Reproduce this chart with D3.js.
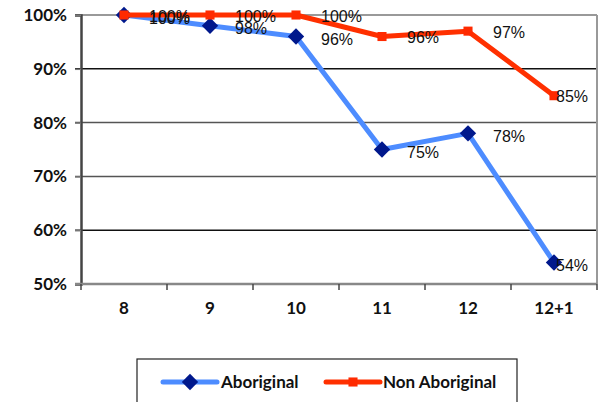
<!DOCTYPE html>
<html>
<head>
<meta charset="utf-8">
<script src="https://cdn.jsdelivr.net/npm/d3@7"></script>
<style>
  html, body { margin: 0; padding: 0; background: #fff; }
  svg { display: block; }
</style>
</head>
<body>
<svg id="chart" width="598" height="402"></svg>
<script>
// Retention by grade, in percent
const grades = ["8", "9", "10", "11", "12", "12+1"];
const aboriginal = [100, 98, 96, 75, 78, 54];
const nonAboriginal = [100, 100, 100, 96, 97, 85];
const yTicks = [50, 60, 70, 80, 90, 100];
const seriesNames = ["Aboriginal", "Non Aboriginal"];

const svg = d3.select("#chart");
const m = { left: 81, right: 597, top: 15, bottom: 284 };

const x = d3.scaleBand().domain(grades).range([m.left, m.right]);
const y = d3.scaleLinear().domain([50, 100]).range([m.bottom, m.top]);

const axisFont = "Lato, 'Open Sans', sans-serif";
const labelFont = "'Liberation Sans', Arial, sans-serif";

// Horizontal gridlines
svg.append("g").selectAll("line")
  .data(yTicks.filter(d => d > 50 && d < 100))
  .join("line")
  .attr("x1", m.left - 6).attr("x2", m.right)
  .attr("y1", d => y(d)).attr("y2", d => y(d))
  .attr("stroke", d => d === 60 || d === 90 ? "#111" : "#555")
  .attr("stroke-width", 1.5);

// Plot area frame: top and right edges
svg.append("line")
  .attr("x1", m.left - 6).attr("x2", m.right)
  .attr("y1", y(100)).attr("y2", y(100))
  .attr("stroke", "#999").attr("stroke-width", 2);
svg.append("line")
  .attr("x1", m.right).attr("x2", m.right)
  .attr("y1", y(100)).attr("y2", y(50))
  .attr("stroke", "#999").attr("stroke-width", 2);

// Y axis
const yAxis = svg.append("g")
  .attr("transform", `translate(${m.left},0)`)
  .call(d3.axisLeft(y).tickValues(yTicks).tickFormat(d => d + "%").tickSize(6).tickPadding(8));
yAxis.select(".domain").attr("stroke", "#444").attr("stroke-width", 2.5);
yAxis.selectAll(".tick line").attr("stroke", "#777").attr("stroke-width", 1.5);
yAxis.selectAll(".tick text")
  .attr("font-family", axisFont).attr("font-weight", "bold")
  .attr("font-size", 17).attr("fill", "#111");

// X axis with ticks between categories
const xAxis = svg.append("g")
  .attr("transform", `translate(0,${m.bottom})`)
  .call(d3.axisBottom(x).tickSize(0).tickPadding(18));
xAxis.select(".domain").remove();
xAxis.selectAll(".tick text")
  .attr("font-family", axisFont).attr("font-weight", "bold")
  .attr("font-size", 17).attr("fill", "#111");
svg.append("line")
  .attr("x1", m.left - 6).attr("x2", m.right)
  .attr("y1", m.bottom).attr("y2", m.bottom)
  .attr("stroke", "#888").attr("stroke-width", 2.5);
svg.append("g").selectAll("line")
  .data(grades.map(g => x(g)).concat([m.right]))
  .join("line")
  .attr("x1", d => d).attr("x2", d => d)
  .attr("y1", m.bottom).attr("y2", m.bottom + 6)
  .attr("stroke", "#444").attr("stroke-width", 1.5);

const cx = g => x(g) + x.bandwidth() / 2;
const line = d3.line().x((d, i) => cx(grades[i])).y(d => y(d));

const series = [
  { name: seriesNames[0], values: aboriginal, line: "#4d8cff", marker: "#00188c", shape: "diamond", dy: 3 },
  { name: seriesNames[1], values: nonAboriginal, line: "#ff3000", marker: "#ff2a00", shape: "square", dy: 1 }
];

const markerPath = shape => shape === "diamond"
  ? d3.symbol(d3.symbolDiamond2, 170)()
  : d3.symbol(d3.symbolSquare2, 105)();

series.forEach(s => {
  svg.append("path")
    .datum(s.values)
    .attr("fill", "none")
    .attr("stroke", s.line)
    .attr("stroke-width", 5)
    .attr("stroke-linejoin", "round")
    .attr("d", line);
  svg.append("g").selectAll("path")
    .data(s.values)
    .join("path")
    .attr("transform", (d, i) => `translate(${cx(grades[i])},${y(d)})`)
    .attr("d", markerPath(s.shape))
    .attr("fill", s.marker);
});

// Value labels
series.forEach(s => {
  svg.append("g").selectAll("text")
    .data(s.values)
    .join("text")
    .attr("x", (d, i) => Math.min(cx(grades[i]) + 25, m.right - 41))
    .attr("y", d => y(d) + s.dy)
    .attr("dy", "0.35em")
    .attr("font-family", labelFont)
    .attr("font-size", 16)
    .attr("fill", "#111")
    .text(d => d + "%");
});

// Legend
const lg = svg.append("g");
lg.append("rect")
  .attr("x", 137).attr("y", 359).attr("width", 380).attr("height", 60)
  .attr("fill", "#fff").attr("stroke", "#222").attr("stroke-width", 1.2);
const legendItems = [
  { s: series[0], x0: 163, tx: 221 },
  { s: series[1], x0: 326, tx: 383 }
];
legendItems.forEach(({ s, x0, tx }) => {
  lg.append("line")
    .attr("x1", x0).attr("x2", x0 + 54)
    .attr("y1", 382).attr("y2", 382)
    .attr("stroke", s.line).attr("stroke-width", 5).attr("stroke-linecap", "round");
  lg.append("path")
    .attr("transform", `translate(${x0 + 27},382)`)
    .attr("d", markerPath(s.shape))
    .attr("fill", s.marker);
  lg.append("text")
    .attr("x", tx).attr("y", 382).attr("dy", "0.35em")
    .attr("font-family", axisFont).attr("font-weight", "bold")
    .attr("font-size", 17).attr("fill", "#111")
    .text(s.name);
});
</script>
</body>
</html>
